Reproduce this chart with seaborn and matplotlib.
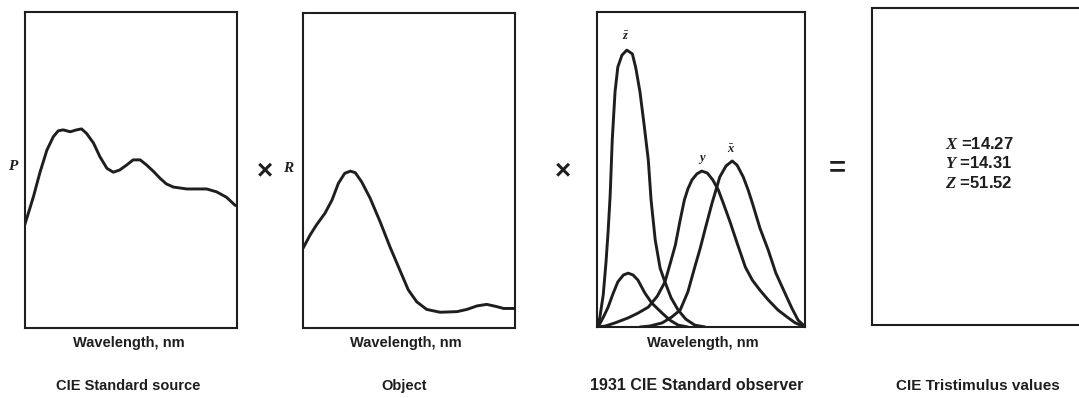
import numpy as np
import pandas as pd
import matplotlib
matplotlib.use("Agg")
import matplotlib.pyplot as plt
import seaborn as sns

# ---------------- data ----------------
# Panel 1: CIE standard source, relative power (fraction of panel height)
source_wavelength = [400, 412, 421, 431, 440, 447, 454, 464, 473, 480, 487,
                     497, 506, 516, 525, 534, 544, 553, 563, 572, 582, 591,
                     600, 610, 629, 657, 671, 685, 697, 700]
source_power = [0.329, 0.416, 0.491, 0.563, 0.605, 0.624, 0.627, 0.621, 0.627,
                0.630, 0.616, 0.585, 0.542, 0.505, 0.493, 0.500, 0.516, 0.532,
                0.532, 0.516, 0.495, 0.474, 0.456, 0.446, 0.440, 0.440, 0.431,
                0.414, 0.389, 0.386]

# Panel 2: object reflectance
object_wavelength = [400, 410, 419, 431, 441, 450, 459, 467, 474, 483, 495,
                     509, 523, 537, 549, 561, 575, 594, 618, 632, 646, 660,
                     674, 684, 700]
object_reflectance = [0.253, 0.295, 0.327, 0.364, 0.406, 0.459, 0.491, 0.498,
                      0.493, 0.464, 0.412, 0.338, 0.258, 0.184, 0.121, 0.083,
                      0.059, 0.050, 0.052, 0.059, 0.070, 0.075, 0.068, 0.062,
                      0.062]

# Panel 3: 1931 CIE standard observer (fraction of panel height)
z_bar_wavelength = [400, 404, 409, 413, 416, 419, 422, 426, 430, 436, 443, 451,
                    456, 462, 468, 474, 478, 484, 491, 498, 507, 517, 528, 541,
                    556]
z_bar = [0.000, 0.029, 0.102, 0.206, 0.302, 0.419, 0.594, 0.746, 0.825, 0.863,
         0.879, 0.867, 0.822, 0.746, 0.641, 0.530, 0.403, 0.276, 0.187, 0.143,
         0.092, 0.054, 0.025, 0.006, 0.000]

y_bar_wavelength = [400, 412, 426, 445, 459, 474, 487, 498, 505, 513, 520, 526,
                    531, 537, 544, 551, 559, 567, 575, 582, 592, 602, 614, 624,
                    635, 647, 661, 674, 686, 697, 700]
y_bar = [0.000, 0.003, 0.013, 0.029, 0.044, 0.063, 0.098, 0.143, 0.197, 0.260,
         0.340, 0.403, 0.438, 0.467, 0.486, 0.495, 0.489, 0.467, 0.435, 0.394,
         0.333, 0.267, 0.190, 0.149, 0.117, 0.086, 0.054, 0.032, 0.013, 0.003,
         0.000]

x_bar_blue_wavelength = [400, 404, 410, 416, 423, 430, 438, 445, 452, 459, 469,
                         479, 494, 505, 517, 531]
x_bar_blue = [0.000, 0.010, 0.035, 0.063, 0.105, 0.143, 0.165, 0.171, 0.165,
              0.149, 0.108, 0.076, 0.044, 0.022, 0.006, 0.000]

x_bar_red_wavelength = [462, 476, 494, 508, 520, 531, 541, 549, 556, 566, 572,
                        577, 586, 595, 602, 611, 618, 624, 635, 647, 658, 671,
                        681, 690, 699]
x_bar_red = [0.000, 0.003, 0.013, 0.032, 0.054, 0.111, 0.190, 0.251, 0.311,
             0.394, 0.438, 0.476, 0.511, 0.527, 0.514, 0.476, 0.435, 0.394,
             0.314, 0.244, 0.171, 0.108, 0.060, 0.022, 0.003]

# Panel 4: tristimulus values
tristimulus_names = ["X", "Y", "Z"]
tristimulus_values = [14.27, 14.31, 51.52]

panel_titles = ["CIE Standard source", "Object", "1931 CIE Standard observer",
                "CIE Tristimulus values"]
axis_label = "Wavelength, nm"

# ---------------- style ----------------
sns.set_style("white")
plt.rcParams["font.family"] = ["Liberation Sans", "DejaVu Sans"]
plt.rcParams["mathtext.fontset"] = "custom"
plt.rcParams["mathtext.rm"] = "Liberation Serif:bold"
plt.rcParams["mathtext.it"] = "Liberation Serif:italic:bold"
plt.rcParams["mathtext.bf"] = "Liberation Serif:bold"

INK = "#1e1e1e"
W, H = 1079, 398
fig = plt.figure(figsize=(W / 100, H / 100), dpi=100)
fig.patch.set_facecolor("white")


def add_axes_px(left, top, right, bottom):
    return fig.add_axes([left / W, 1 - bottom / H, (right - left) / W, (bottom - top) / H])


def style_frame(ax):
    ax.set_xticks([])
    ax.set_yticks([])
    ax.set_xlabel("")
    ax.set_ylabel("")
    for s in ax.spines.values():
        s.set_visible(True)
        s.set_color(INK)
        s.set_linewidth(1.5)


def fig_text(x, y, s, **kw):
    fig.text(x / W, 1 - y / H, s, **kw)


LINE_KW = dict(color=INK, linewidth=2.1, solid_joinstyle="round",
               solid_capstyle="round")


def draw_curve(ax, wl, vals):
    df = pd.DataFrame({"wl": wl, "v": vals})
    sns.lineplot(data=df, x="wl", y="v", ax=ax, estimator=None, sort=False,
                 **LINE_KW)


# Panel 1
ax1 = add_axes_px(25, 12, 237, 328)
draw_curve(ax1, source_wavelength, source_power)
ax1.set_xlim(400, 700)
ax1.set_ylim(0, 1)
style_frame(ax1)

# Panel 2
ax2 = add_axes_px(303, 13, 515, 328)
draw_curve(ax2, object_wavelength, object_reflectance)
ax2.set_xlim(400, 700)
ax2.set_ylim(0, 1)
style_frame(ax2)

# Panel 3
ax3 = add_axes_px(597, 12, 805, 327)
draw_curve(ax3, z_bar_wavelength, z_bar)
draw_curve(ax3, y_bar_wavelength, y_bar)
draw_curve(ax3, x_bar_blue_wavelength, x_bar_blue)
draw_curve(ax3, x_bar_red_wavelength, x_bar_red)
ax3.set_xlim(400, 700)
ax3.set_ylim(0, 1)
style_frame(ax3)
fig_text(626, 37, r"$\bar{z}$", ha="center", va="center", fontsize=9, color=INK)
fig_text(702, 160, r"$y$", ha="center", va="center", fontsize=9, color=INK)
fig_text(731, 150, r"$\bar{x}$", ha="center", va="center", fontsize=9, color=INK)

# Panel 4
ax4 = add_axes_px(872, 8, 1090, 325)
ax4.set_xlim(0, 1)
ax4.set_ylim(0, 1)
style_frame(ax4)
for i, (n, v) in enumerate(zip(tristimulus_names, tristimulus_values)):
    fig_text(979, 144 + i * 19.5, rf"$\mathit{{{n}}}$ ={v:.2f}", ha="center",
             va="center", fontsize=12, fontweight="bold", color=INK)

# Operators and axis letters
fig_text(14, 166, r"$\mathit{P}$", ha="center", va="center", fontsize=11, color=INK)
fig_text(289, 168, r"$\mathit{R}$", ha="center", va="center", fontsize=11, color=INK)
fig_text(265, 171, "×", ha="center", va="center", fontsize=20, fontweight="bold", color=INK)
fig_text(563, 171, "×", ha="center", va="center", fontsize=20, fontweight="bold", color=INK)
fig_text(837, 168, "=", ha="center", va="center", fontsize=21, fontweight="bold", color=INK)

# Labels under panels
for cx in (129, 406, 703):
    fig_text(cx, 343, axis_label, ha="center", va="center", fontsize=10.5,
             fontweight="bold", color=INK)
title_sizes = [10.5, 10.5, 11.5, 11]
for cx, t, fs in zip((128, 404, 697, 978), panel_titles, title_sizes):
    fig_text(cx, 386, t, ha="center", va="center", fontsize=fs,
             fontweight="bold", color=INK)

fig.savefig("out.png", dpi=100, facecolor="white")
